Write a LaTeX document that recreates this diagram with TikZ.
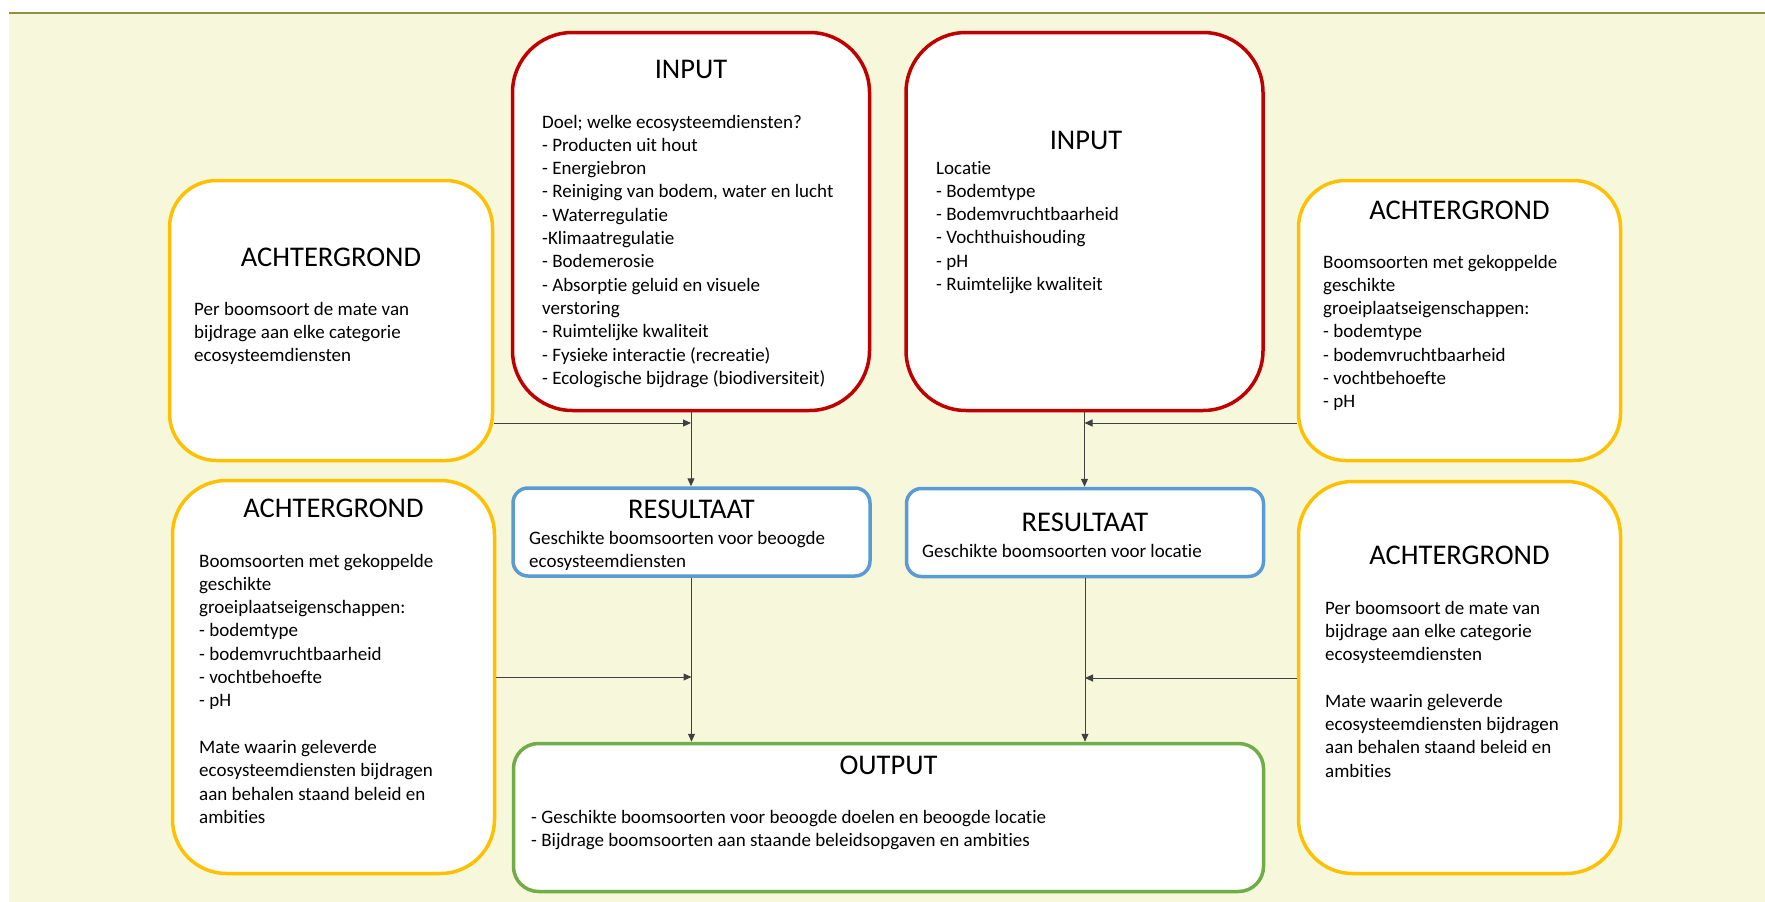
\documentclass[tikz,border=0pt]{standalone}
\usepackage{fontspec}
\setmainfont{Carlito}[Ligatures=NoCommon]
\usetikzlibrary{arrows.meta,calc}
\definecolor{cream}{HTML}{F7F8DB}
\definecolor{topline}{HTML}{8C923E}
\definecolor{myred}{HTML}{C00000}
\definecolor{mygold}{HTML}{FFC000}
\definecolor{myblue}{HTML}{5B9BD5}
\definecolor{mygreen}{HTML}{70AD47}
\definecolor{linegray}{HTML}{404040}
\begin{document}
\begin{tikzpicture}[x=1pt,y=-1pt,
  boxbase/.style={rectangle, fill=white, line width=3.5pt, inner sep=0pt},
  redbox/.style={boxbase, draw=myred, minimum width=357pt, minimum height=378pt, rounded corners=60pt},
  goldbox/.style={boxbase, draw=mygold},
  bluebox/.style={boxbase, draw=myblue, minimum width=357pt, minimum height=88pt, rounded corners=15pt},
  greenbox/.style={boxbase, draw=mygreen, minimum width=750pt, minimum height=148pt, rounded corners=25pt},
  titletext/.style={font=\fontsize{28.5}{34}\selectfont, inner sep=0pt, anchor=base},
  bodytext/.style={font=\fontsize{19}{23.3}\selectfont, align=left, inner sep=0pt, anchor=base west},
  conn/.style={draw=linegray, line width=1pt},
  arr/.style={conn, -{Triangle[length=8pt,width=7pt]}}
]
\useasboundingbox (0,0) rectangle (1765,902);
\fill[white] (0,0) rectangle (1765,902);
\fill[cream] (9,13) rectangle (1765,902);
\draw[topline, line width=2pt] (9,13) -- (1765,13);

% boxes
\node[goldbox, minimum width=323pt, minimum height=280pt, rounded corners=47pt] (a1) at (331,320.5) {};
\node[redbox] (in1) at (691,221.5) {};
\node[redbox] (in2) at (1084.5,221.5) {};
\node[goldbox, minimum width=322pt, minimum height=280pt, rounded corners=47pt] (a2) at (1459.5,320.5) {};
\node[goldbox, minimum width=322pt, minimum height=393pt, rounded corners=54pt] (a3) at (333.5,677) {};
\node[goldbox, minimum width=322pt, minimum height=392pt, rounded corners=54pt] (a4) at (1459.5,677.5) {};
\node[bluebox] (res1) at (691.5,532) {};
\node[bluebox] (res2) at (1085,532.5) {};
\node[greenbox] (out) at (888.5,817.5) {};

% texts (body nodes are anchored at the baseline of their last line)
\node[titletext] (a1t) at (331,266) {ACHTERGROND};
\node[bodytext] (a1b) at (194,361.6) {Per boomsoort de mate van\\bijdrage aan elke categorie\\ecosysteemdiensten};

\node[titletext] (in1t) at (691,78) {INPUT};
\node[bodytext] (in1b) at (542,384.3) {Doel; welke ecosysteemdiensten?\\- Producten uit hout\\- Energiebron\\- Reiniging van bodem, water en lucht\\- Waterregulatie\\-Klimaatregulatie\\- Bodemerosie\\- Absorptie geluid en visuele\\verstoring\\- Ruimtelijke kwaliteit\\- Fysieke interactie (recreatie)\\- Ecologische bijdrage (biodiversiteit)};

\node[titletext] (in2t) at (1086,149) {INPUT};
\node[bodytext] (in2b) at (936,290.5) {Locatie\\- Bodemtype\\- Bodemvruchtbaarheid\\- Vochthuishouding\\- pH\\- Ruimtelijke kwaliteit};

\node[titletext] (a2t) at (1459.5,219) {ACHTERGROND};
\node[bodytext] (a2b) at (1323,407.8) {Boomsoorten met gekoppelde\\geschikte\\groeiplaatseigenschappen:\\- bodemtype\\- bodemvruchtbaarheid\\- vochtbehoefte\\- pH};

\node[titletext] (a3t) at (333.5,517) {ACHTERGROND};
\node[bodytext] (a3b) at (199,823.3) {Boomsoorten met gekoppelde\\geschikte\\groeiplaatseigenschappen:\\- bodemtype\\- bodemvruchtbaarheid\\- vochtbehoefte\\- pH\\[23.3pt]Mate waarin geleverde\\ecosysteemdiensten bijdragen\\aan behalen staand beleid en\\ambities};

\node[titletext] (a4t) at (1459.5,564) {ACHTERGROND};
\node[bodytext] (a4b) at (1325,777.1) {Per boomsoort de mate van\\bijdrage aan elke categorie\\ecosysteemdiensten\\[23.3pt]Mate waarin geleverde\\ecosysteemdiensten bijdragen\\aan behalen staand beleid en\\ambities};

\node[titletext] (res1t) at (691.5,518) {RESULTAAT};
\node[bodytext] (res1b) at (529,567.3) {Geschikte boomsoorten voor beoogde\\ecosysteemdiensten};

\node[titletext] (res2t) at (1085,531) {RESULTAAT};
\node[bodytext] (res2b) at (922,557) {Geschikte boomsoorten voor locatie};

\node[titletext] (outt) at (888.5,774) {OUTPUT};
\node[bodytext] (outb) at (531,846.3) {- Geschikte boomsoorten voor beoogde doelen en beoogde locatie\\- Bijdrage boomsoorten aan staande beleidsopgaven en ambities};

% connectors
\coordinate (j1) at (691,423);
\coordinate (j2) at (1084.5,423);
\coordinate (j3) at (691.5,677);
\coordinate (j4) at (1085,678);
\draw[arr] (in1.south) -- (in1.south |- res1.north);
\draw[arr] (a1.east |- j1) -- (j1);
\draw[arr] (res1.south) -- (res1.south |- out.north);
\draw[arr] (a3.east |- j3) -- (j3);
\draw[arr] (in2.south) -- (in2.south |- res2.north);
\draw[arr] (a2.west |- j2) -- (j2);
\draw[arr] (res2.south) -- (res2.south |- out.north);
\draw[arr] (a4.west |- j4) -- (j4);
\end{tikzpicture}
\end{document}
